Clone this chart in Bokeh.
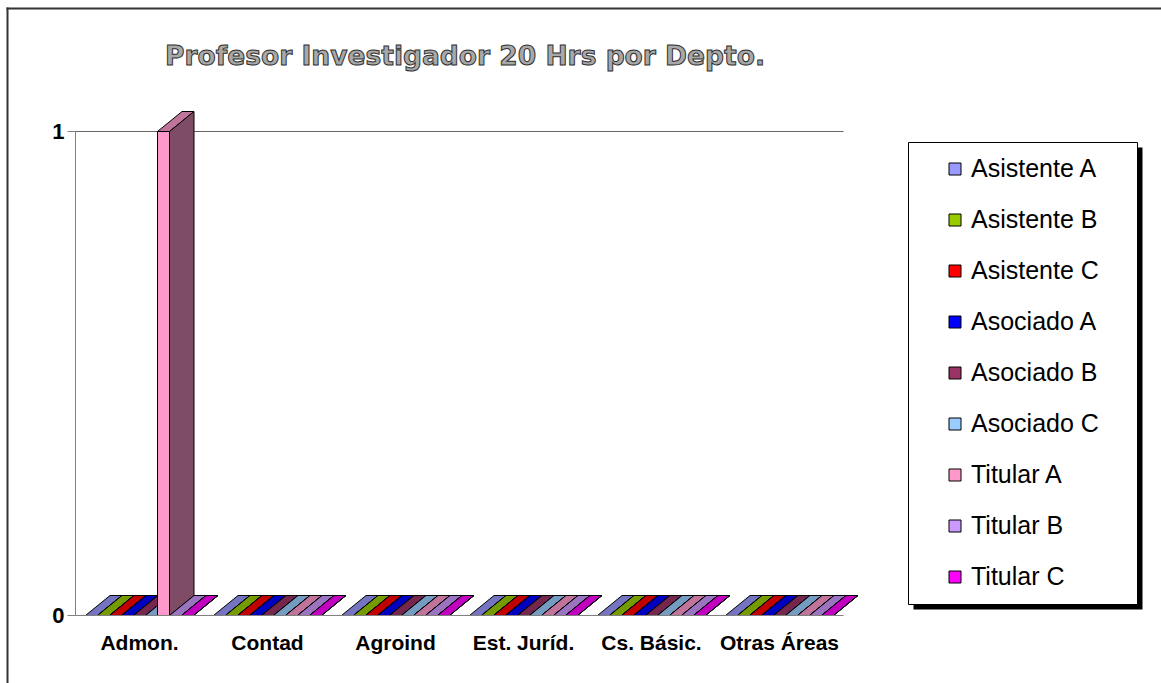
from bokeh.plotting import figure
from bokeh.models import Range1d, FixedTicker, Legend, LegendItem, Label, BoxAnnotation
from bokeh.embed import file_html
from bokeh.resources import INLINE

# ---------------- data ----------------
categories = ["Admon.", "Contad", "Agroind", "Est. Juríd.", "Cs. Básic.", "Otras Áreas"]
series = ["Asistente A", "Asistente B", "Asistente C", "Asociado A", "Asociado B",
          "Asociado C", "Titular A", "Titular B", "Titular C"]
colors = ["#9999FF", "#99CC00", "#FF0000", "#0000FF", "#993366",
          "#99CCFF", "#FF99CC", "#CC99FF", "#FF00FF"]
asistente_a = [0, 0, 0, 0, 0, 0]
asistente_b = [0, 0, 0, 0, 0, 0]
asistente_c = [0, 0, 0, 0, 0, 0]
asociado_a = [0, 0, 0, 0, 0, 0]
asociado_b = [0, 0, 0, 0, 0, 0]
asociado_c = [0, 0, 0, 0, 0, 0]
titular_a = [1, 0, 0, 0, 0, 0]
titular_b = [0, 0, 0, 0, 0, 0]
titular_c = [0, 0, 0, 0, 0, 0]
values = [asistente_a, asistente_b, asistente_c, asociado_a, asociado_b,
          asociado_c, titular_a, titular_b, titular_c]
y_ticks = [0, 1]
title_text = "Profesor Investigador 20 Hrs por Depto."

# ---------------- layout (pixels on page) ----------------
W, H = 1161, 683
X0_PX, UNIT_X = 75, 128.0     # page x of value 0 on x axis, px per category
Y0_PX, UNIT_Y = 615, 484.0    # page y of value 0, px per unit value

def dx(px):
    return (px - X0_PX) / UNIT_X

def dy(py):
    return (Y0_PX - py) / UNIT_Y

n = len(categories)
gap = 20 / UNIT_X
bar_w = 12 / UNIT_X
depth_x = 24.5 / UNIT_X
depth_y = 20 / UNIT_Y

def shade(hexcol, f):
    h = hexcol.lstrip("#")
    r, g, b = (int(h[i:i + 2], 16) for i in (0, 2, 4))
    return "#%02x%02x%02x" % (int(r * f), int(g * f), int(b * f))

p = figure(width=W, height=H, output_backend="svg", toolbar_location=None,
           title=None,
           x_range=Range1d(dx(0), dx(W)), y_range=Range1d(dy(H), dy(0)),
           min_border_left=0, min_border_right=0, min_border_top=0,
           min_border_bottom=0)
p.background_fill_color = "white"
p.border_fill_color = "white"
p.outline_line_color = None
p.xgrid.visible = False
p.ygrid.visible = False

# gridlines (back wall)
for t in y_ticks:
    if t > 0:
        p.segment(x0=[0], x1=[n], y0=[t], y1=[t], line_color="#666666", line_width=1)

front_renderers = []
for j, (name, col, vals) in enumerate(zip(series, colors, values)):
    xl = [i + gap / 2 + j * bar_w for i in range(n)]
    xr = [x + bar_w for x in xl]
    # top faces
    p.patches(xs=[[a, b, b + depth_x, a + depth_x] for a, b in zip(xl, xr)],
              ys=[[v, v, v + depth_y, v + depth_y] for v in vals],
              fill_color=shade(col, 0.76), line_color="black", line_width=1)
    # side faces
    p.patches(xs=[[b, b + depth_x, b + depth_x, b] for b in xr],
              ys=[[0, depth_y, v + depth_y, v] for v in vals],
              fill_color=shade(col, 0.5), line_color="black", line_width=1)
    # front faces
    r = p.quad(left=xl, right=xr, bottom=[0] * n, top=vals,
               fill_color=col, line_color="black", line_width=1)
    front_renderers.append(r)

# axes
p.yaxis.fixed_location = 0
p.yaxis.ticker = FixedTicker(ticks=y_ticks)
p.yaxis.bounds = (min(y_ticks), max(y_ticks))
p.yaxis.axis_line_color = "#808080"
p.yaxis.axis_line_width = 1
p.yaxis.major_tick_line_color = "#808080"
p.yaxis.major_tick_out = 8
p.yaxis.major_tick_in = 0
p.yaxis.minor_tick_line_color = None
p.yaxis.major_label_standoff = 3
p.yaxis.major_label_text_font = "Liberation Sans"
p.yaxis.major_label_text_font_style = "bold"
p.yaxis.major_label_text_font_size = "22px"
p.yaxis.major_label_text_color = "black"

centers = [i + 0.5 for i in range(n)]
p.xaxis.fixed_location = 0
p.xaxis.ticker = FixedTicker(ticks=centers)
p.xaxis.major_label_overrides = {c: lab for c, lab in zip(centers, categories)}
p.xaxis.bounds = (0, n)
p.xaxis.axis_line_color = "#808080"
p.xaxis.major_tick_line_color = None
p.xaxis.major_tick_out = 0
p.xaxis.major_tick_in = 0
p.xaxis.minor_tick_line_color = None
p.xaxis.major_label_standoff = 15
p.xaxis.major_label_text_font = "Liberation Sans"
p.xaxis.major_label_text_font_style = "bold"
p.xaxis.major_label_text_font_size = "21px"
p.xaxis.major_label_text_color = "black"

# chart-area border (left and top edges)
p.add_layout(BoxAnnotation(left=dx(6), right=dx(8), top=dy(7), bottom=dy(H),
                           fill_color="#333333", fill_alpha=1, line_color=None))
p.add_layout(BoxAnnotation(left=dx(6), right=dx(W), top=dy(7), bottom=dy(9),
                           fill_color="#333333", fill_alpha=1, line_color=None))

# title
p.add_layout(Label(x=dx(464.5), y=dy(55), text=title_text, text_align="center",
                   text_baseline="alphabetic", text_font="DejaVu Sans",
                   text_font_style="bold", text_font_size="26.5px",
                   text_color="#a8a8a8", text_outline_color="#303030"))

# legend box + shadow
LB_L, LB_T, LB_R, LB_B = 908, 142, 1137, 604
p.add_layout(BoxAnnotation(left=dx(LB_L + 5), right=dx(LB_R + 5), top=dy(LB_T + 5), bottom=dy(LB_B + 5),
                           fill_color="black", fill_alpha=1, line_color=None))
p.add_layout(BoxAnnotation(left=dx(LB_L), right=dx(LB_R), top=dy(LB_T), bottom=dy(LB_B),
                           fill_color="white", fill_alpha=1, line_color="black", line_alpha=1,
                           line_width=1))

legend = Legend(items=[LegendItem(label=s, renderers=[r]) for s, r in zip(series, front_renderers)],
                location=(947, H - Y0_PX + 24), padding=0, margin=0, spacing=22,
                glyph_width=15, glyph_height=15, label_height=29, label_standoff=9,
                label_text_font="Liberation Sans", label_text_font_size="25px",
                label_text_color="black", border_line_color=None,
                background_fill_alpha=0)
p.add_layout(legend)

open("out.html", "w").write(file_html(p, INLINE))
